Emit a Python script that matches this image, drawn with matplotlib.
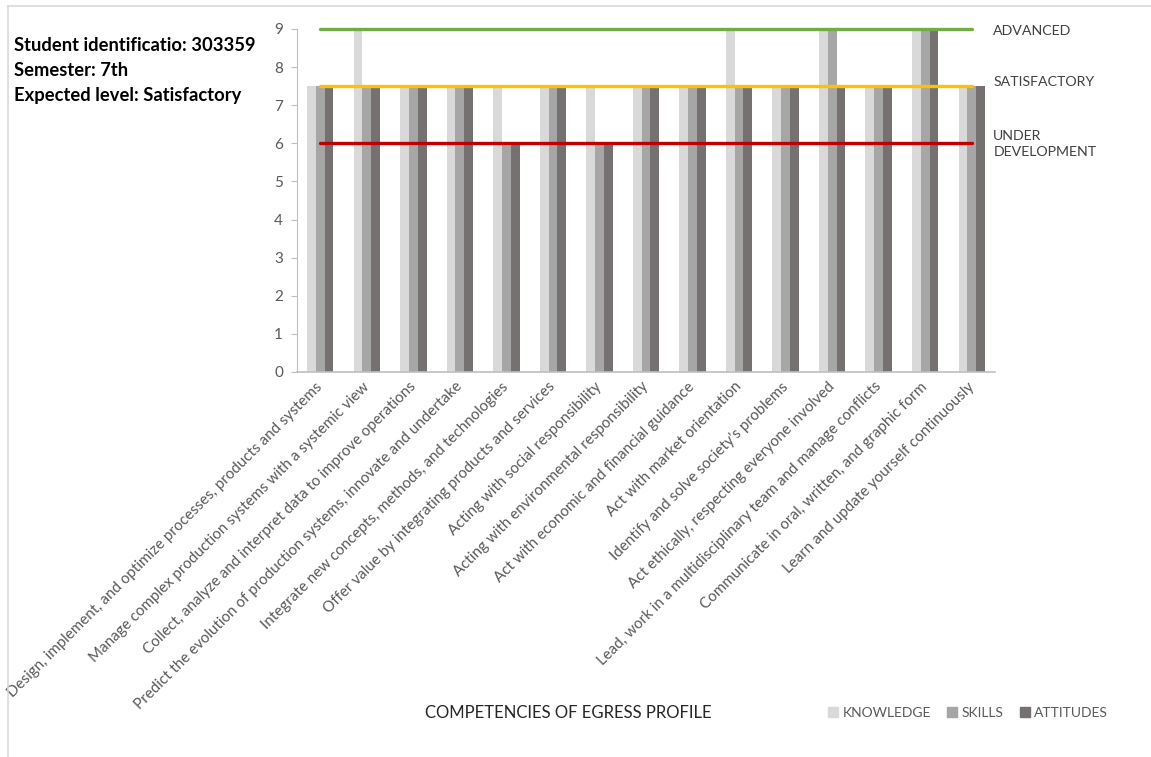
import matplotlib
matplotlib.use("Agg")
import matplotlib.pyplot as plt
import numpy as np
from matplotlib.lines import Line2D
from matplotlib.patches import Patch

plt.rcParams["font.family"] = ["Lato", "DejaVu Sans"]

competencies = [
    "Design, implement, and optimize processes, products and systems",
    "Manage complex production systems with a systemic view",
    "Collect, analyze and interpret data to improve operations",
    "Predict the evolution of production systems, innovate and undertake",
    "Integrate new concepts, methods, and technologies",
    "Offer value by integrating products and services",
    "Acting with social responsibility",
    "Acting with environmental responsibility",
    "Act with economic and financial guidance",
    "Act with market orientation",
    "Identify and solve society's problems",
    "Act ethically, respecting everyone involved",
    "Lead, work in a multidisciplinary team and manage conflicts",
    "Communicate in oral, written, and graphic form",
    "Learn and update yourself continuously",
]
knowledge = [7.5, 9, 7.5, 7.5, 7.5, 7.5, 7.5, 7.5, 7.5, 9, 7.5, 9, 7.5, 9, 7.5]
skills = [7.5, 7.5, 7.5, 7.5, 6, 7.5, 6, 7.5, 7.5, 7.5, 7.5, 9, 7.5, 9, 7.5]
attitudes = [7.5, 7.5, 7.5, 7.5, 6, 7.5, 6, 7.5, 7.5, 7.5, 7.5, 7.5, 7.5, 9, 7.5]
level_names = ["ADVANCED", "SATISFACTORY", "UNDER\nDEVELOPMENT"]
level_values = [9, 7.5, 6]
level_colors = ["#70AD47", "#FFC000", "#C00000"]
series_names = ["KNOWLEDGE", "SKILLS", "ATTITUDES"]
series_colors = ["#D9D9D9", "#A6A6A6", "#767171"]

fig = plt.figure(figsize=(11.51, 7.57), dpi=100)
ax = fig.add_axes([0.258, 0.5086, 0.6065, 0.4531])

x = np.arange(len(competencies))
w = 0.19
for off, vals, col in zip([-w, 0, w], [knowledge, skills, attitudes], series_colors):
    ax.bar(x + off, vals, width=w, color=col, zorder=2, clip_on=False)

# reference levels, drawn across the category centres
for val, col in zip(level_values, level_colors):
    ax.plot(x, [val] * len(x), color=col, lw=2.4, zorder=3, clip_on=False,
            solid_capstyle="round")

ax.set_xlim(-0.5, len(x) - 0.5)
ax.set_ylim(0, 9)
ax.set_yticks(range(10))
ax.set_xticks(x)
ax.set_xticklabels(competencies, rotation=45, ha="right", va="center",
                   rotation_mode="anchor", color="#595959", fontsize=10.9)
ax.tick_params(axis="x", length=0, pad=9)
ax.tick_params(axis="y", length=4, color="#BFBFBF", labelsize=11,
               labelcolor="#595959", pad=6)
for s in ["top", "right"]:
    ax.spines[s].set_visible(False)
ax.spines["left"].set_color("#BFBFBF")
ax.spines["bottom"].set_color("#BFBFBF")
ax.spines["bottom"].set_linewidth(1.2)

# level labels on the right
for name, ypos in zip(level_names, [0.959, 0.892, 0.810]):
    fig.text(0.863, ypos, name, fontsize=10.2, color="#404040", va="center",
             linespacing=1.4)

# student block
for i, line in enumerate(["Student identificatio: 303359", "Semester: 7th",
                          "Expected level: Satisfactory"]):
    fig.text(0.012, 0.940 - 0.033 * i, line, fontsize=13.2, fontweight="bold",
             va="center")

fig.text(0.494, 0.058, "COMPETENCIES OF EGRESS PROFILE", fontsize=12,
         color="#262626", ha="center", va="center")

handles = [Patch(color=c) for c in series_colors]
fig.legend(handles, series_names, loc="center",
           bbox_to_anchor=(0.841, 0.058), ncol=3, frameon=False,
           handlelength=0.7, handleheight=0.7, handletextpad=0.3,
           columnspacing=1.2, fontsize=10, labelcolor="#595959")

# outer border (top and left)
fig.add_artist(Line2D([8 / 1151, 1], [1 - 6 / 757, 1 - 6 / 757], color="#D9D9D9", lw=1.2))
fig.add_artist(Line2D([8 / 1151, 8 / 1151], [0, 1 - 6 / 757], color="#D9D9D9", lw=1.2))

fig.savefig("out.png", dpi=100)
